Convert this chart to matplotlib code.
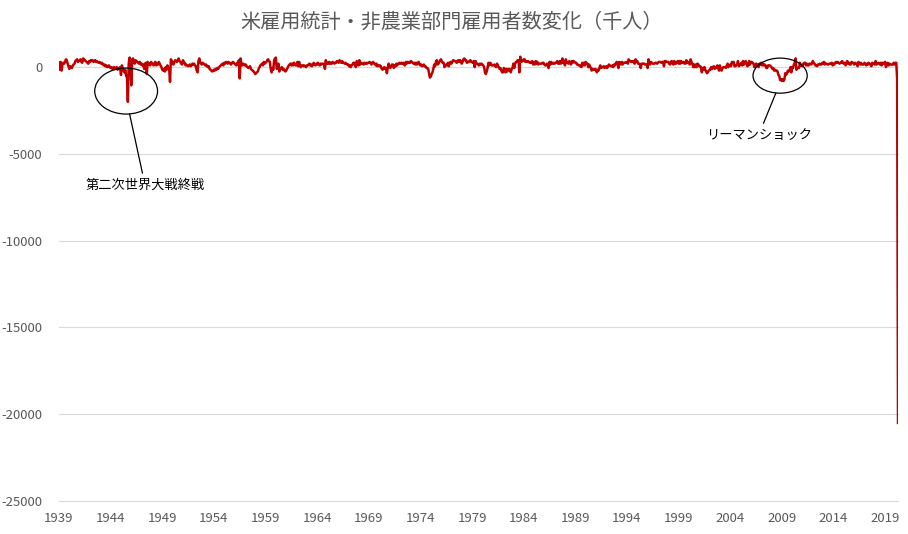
import matplotlib
matplotlib.use("Agg")
import matplotlib.pyplot as plt
from matplotlib.patches import Ellipse

plt.rcParams["font.family"] = ["Noto Sans CJK JP", "DejaVu Sans"]

# monthly change of US nonfarm payrolls (thousands), Jan 1939 - Apr 2020
y1939 = [250, -150, 300, -200, 150, 250, 200, 300, 450, 400, 200, 50]
y1940 = [-100, 50, 0, -50, 100, 150, 200, 350, 400, 450, 300, 350]
y1941 = [400, 450, 300, 250, 500, 450, 400, 350, 300, 250, 200, 350]
y1942 = [300, 400, 350, 400, 300, 350, 400, 300, 350, 300, 250, 300]
y1943 = [250, 200, 250, 150, 100, 150, 50, 100, 0, 50, 100, 0]
y1944 = [-50, 0, -100, -50, 0, -100, -50, 0, -150, -50, -100, 0]
y1945 = [-450, 100, -50, -200, -300, -150, -500, -600, -2000, 200, 550, 300]
y1946 = [-1050, 450, 500, 300, 200, 400, 350, 300, 250, 200, 300, 150]
y1947 = [200, 100, 150, -100, 200, 250, -400, 300, 150, 200, 100, 300]
y1948 = [200, 150, 100, 250, 300, 100, 200, 150, 300, 200, 100, 0]
y1949 = [-150, -200, -100, -250, 0, -150, 100, -50, -100, -850, 450, 350]
y1950 = [200, 150, 300, 400, 350, 300, 400, 500, 350, 300, 200, 150]
y1951 = [400, 300, 250, 100, 150, 100, 50, 100, 150, 50, 100, 200]
y1952 = [150, 200, 100, 50, -200, -300, 350, 500, 300, 200, 150, 250]
y1953 = [200, 150, 100, 150, 50, 0, 50, -100, -150, -200, -250, -200]
y1954 = [-150, -200, -100, -150, -50, -100, 0, 50, 100, 150, 200, 100]
y1955 = [250, 200, 300, 250, 200, 300, 250, 200, 150, 250, 300, 250]
y1956 = [200, 150, 100, 250, 150, 400, -650, 500, 150, 100, 200, 150]
y1957 = [100, 150, 50, 0, -50, 0, 50, -100, -150, -200, -250, -300]
y1958 = [-400, -350, -300, -250, -100, 0, 100, 150, 200, 100, 300, 200]
y1959 = [250, 300, 400, 450, 350, 300, -100, -300, -50, -150, 400, 500]
y1960 = [550, -100, 0, 200, -250, -50, -100, 0, -150, -100, -200, -250]
y1961 = [-200, -100, 0, 100, 150, 200, 100, 200, 100, 250, 200, 100]
y1962 = [100, 300, 50, 300, 100, 0, 100, 100, 50, 100, 50, 0]
y1963 = [100, 100, 150, 200, 100, 150, 50, 150, 250, 150, 100, 200]
y1964 = [150, 250, 150, 100, 200, 150, 200, 200, 150, -100, 400, 200]
y1965 = [250, 200, 300, 200, 250, 200, 300, 250, 200, 250, 250, 350]
y1966 = [300, 250, 400, 300, 250, 350, 250, 250, 200, 250, 200, 150]
y1967 = [150, 50, 100, 0, 100, 150, 250, 250, 100, 0, 350, 250]
y1968 = [100, 400, 150, 250, 200, 200, 150, 250, 200, 250, 200, 250]
y1969 = [250, 300, 250, 150, 250, 300, 200, 200, 100, 200, 50, 100]
y1970 = [50, 100, 50, -100, -150, -100, 0, -100, -50, -350, -50, 200]
y1971 = [50, -50, 50, 150, 150, -50, 100, 50, 200, 100, 200, 200]
y1972 = [250, 200, 250, 200, 250, 150, 100, 300, 200, 300, 250, 300]
y1973 = [250, 350, 300, 250, 200, 250, 150, 250, 150, 250, 300, 150]
y1974 = [100, 150, 50, 100, 150, 50, 50, -50, -50, -100, -350, -600]
y1975 = [-550, -400, -300, -100, 150, 50, 300, 400, 150, 200, 300, 400]
y1976 = [450, 300, 250, 250, 0, 100, 150, 100, 250, 50, 250, 300]
y1977 = [200, 300, 400, 350, 350, 350, 250, 300, 400, 300, 400, 350]
y1978 = [200, 300, 450, 500, 400, 400, 250, 300, 300, 350, 400, 300]
y1979 = [300, 250, 350, 0, 350, 200, 200, 150, 100, 200, 150, 200]
y1980 = [150, 100, 0, -300, -400, -250, -50, 250, 100, 250, 200, 100]
y1981 = [100, 100, 150, 50, 0, 200, 100, 0, -100, -50, -200, -300]
y1982 = [-300, -50, -150, -300, -100, -250, -150, -100, -200, -300, -100, -50]
y1983 = [200, -50, 200, 300, 300, 400, 400, -300, 600, 300, 350, 350]
y1984 = [450, 450, 300, 350, 300, 350, 300, 250, 300, 250, 350, 150]
y1985 = [250, 150, 350, 200, 300, 150, 200, 200, 200, 200, 250, 250]
y1986 = [150, 100, 100, 200, 150, -50, 300, 150, 300, 200, 200, 250]
y1987 = [200, 250, 250, 350, 200, 200, 350, 200, 250, 500, 250, 300]
y1988 = [100, 450, 250, 250, 200, 350, 250, 150, 350, 250, 350, 300]
y1989 = [250, 250, 150, 150, 100, 100, 50, 0, 250, 100, 250, 100]
y1990 = [300, 250, 200, 0, 150, 50, -50, -200, -100, -150, -150, -100]
y1991 = [-150, -300, -150, -200, -50, 100, -50, 0, 0, 50, -50, 0]
y1992 = [50, -50, 50, 150, 100, 50, 50, 100, 0, 150, 100, 200]
y1993 = [300, 250, -50, 300, 250, 150, 300, 150, 250, 250, 250, 300]
y1994 = [250, 200, 450, 350, 350, 300, 350, 300, 350, 200, 450, 300]
y1995 = [350, 200, 200, 150, -50, 200, 200, 200, 200, 150, 150, 150]
y1996 = [-50, 450, 250, 150, 300, 250, 200, 200, 200, 250, 250, 200]
y1997 = [250, 300, 300, 300, 250, 300, 300, 50, 350, 350, 300, 300]
y1998 = [300, 200, 150, 300, 350, 200, 150, 350, 200, 200, 300, 350]
y1999 = [200, 350, 200, 350, 250, 250, 300, 200, 200, 400, 250, 300]
y2000 = [250, 150, 450, 300, 200, 0, 150, 0, 150, 0, 200, 150]
y2001 = [50, 50, 0, -300, -50, -150, 0, -150, -250, -350, -300, -200]
y2002 = [-150, -150, 0, -100, 0, 50, -100, 0, -50, 100, 0, -200]
y2003 = [100, -150, -200, -50, 0, 0, 0, -50, 100, 200, 0, 100]
y2004 = [150, 50, 300, 250, 300, 50, 50, 100, 150, 350, 50, 100]
y2005 = [150, 250, 100, 350, 150, 250, 350, 200, 50, 100, 350, 150]
y2006 = [300, 300, 250, 200, 0, 50, 200, 150, 150, 0, 200, 150]
y2007 = [250, 100, 200, 100, 150, 100, -50, -50, 100, 100, 100, 50]
y2008 = [0, -100, -50, -200, -150, -200, -200, -250, -450, -500, -750, -700]
y2009 = [-800, -700, -800, -700, -350, -450, -350, -200, -250, -200, 0, -300]
y2010 = [0, -50, 150, 250, 500, -150, -50, -50, -50, 250, 100, 100]
y2011 = [50, 200, 250, 250, 100, 200, 100, 100, 200, 200, 150, 200]
y2012 = [350, 250, 200, 100, 100, 50, 150, 150, 200, 150, 150, 250]
y2013 = [200, 300, 150, 200, 200, 150, 150, 200, 200, 200, 250, 100]
y2014 = [200, 150, 250, 300, 250, 300, 250, 200, 250, 250, 350, 250]
y2015 = [200, 250, 100, 250, 350, 200, 250, 150, 150, 300, 250, 250]
y2016 = [150, 250, 200, 200, 50, 300, 250, 150, 250, 150, 150, 150]
y2017 = [250, 200, 100, 200, 150, 250, 200, 150, 50, 250, 200, 200]
y2018 = [150, 350, 150, 200, 250, 200, 150, 250, 100, 250, 200, 250]
y2019 = [300, 0, 150, 250, 100, 200, 150, 150, 150, 150, 250, 150]
y2020 = [250, 250, -700, -20500]

years = [
    y1939, y1940, y1941, y1942, y1943, y1944, y1945, y1946, y1947, y1948,
    y1949, y1950, y1951, y1952, y1953, y1954, y1955, y1956, y1957, y1958,
    y1959, y1960, y1961, y1962, y1963, y1964, y1965, y1966, y1967, y1968,
    y1969, y1970, y1971, y1972, y1973, y1974, y1975, y1976, y1977, y1978,
    y1979, y1980, y1981, y1982, y1983, y1984, y1985, y1986, y1987, y1988,
    y1989, y1990, y1991, y1992, y1993, y1994, y1995, y1996, y1997, y1998,
    y1999, y2000, y2001, y2002, y2003, y2004, y2005, y2006, y2007, y2008,
    y2009, y2010, y2011, y2012, y2013, y2014, y2015, y2016, y2017, y2018,
    y2019, y2020,
]
values = [v for yr in years for v in yr]
x = list(range(len(values)))

tick_years = list(range(1939, 2020, 5))
tick_pos = [(yr - 1939) * 12 for yr in tick_years]
y_ticks = [0, -5000, -10000, -15000, -20000, -25000]

title = "米雇用統計・非農業部門雇用者数変化（千人）"
note_war = "第二次世界大戦終戦"
note_lehman = "リーマンショック"

fig = plt.figure(figsize=(9.08, 5.34), dpi=100)
ax = fig.add_axes([0.065, 0.0618, 0.924, 0.845])

ax.plot(x, values, color="#C00000", lw=1.8, zorder=3)

ax.set_xlim(0, len(values) - 1)
ax.set_ylim(-25000, 1000)
ax.set_yticks(y_ticks)
ax.set_yticklabels([str(v) for v in y_ticks])
ax.set_xticks(tick_pos)
ax.set_xticklabels([str(t) for t in tick_years])
ax.grid(axis="y", color="#d9d9d9", lw=0.8, zorder=0)
for gl in ax.get_ygridlines():
    gl.set_clip_on(False)
for s in ax.spines.values():
    s.set_visible(False)
ax.tick_params(axis="y", length=0, pad=12, labelsize=9.5, labelcolor="#595959")
ax.tick_params(axis="x", length=0, pad=8, labelsize=9.5, labelcolor="#595959")

fig.text(0.497, 0.958, title, ha="center", va="center", fontsize=14.5, color="#595959")

# annotations: ellipses around the two dips with leader lines to the labels
ax.add_patch(Ellipse((78, -1380), 73, 2650, fill=False, ec="black", lw=0.9, zorder=4))
ax.annotate(note_war, xy=(82, -2700), xytext=(100, -6800), ha="center", va="center",
            fontsize=9.5, arrowprops=dict(arrowstyle="-", lw=0.9, color="black",
                                          shrinkA=2, shrinkB=0))

ax.add_patch(Ellipse((838, -490), 63, 2020, fill=False, ec="black", lw=0.9, zorder=4))
ax.annotate(note_lehman, xy=(833, -1500), xytext=(813, -3920), ha="center", va="center",
            fontsize=9.5, arrowprops=dict(arrowstyle="-", lw=0.9, color="black",
                                          shrinkA=2, shrinkB=0))

fig.savefig("out.png", dpi=100)
